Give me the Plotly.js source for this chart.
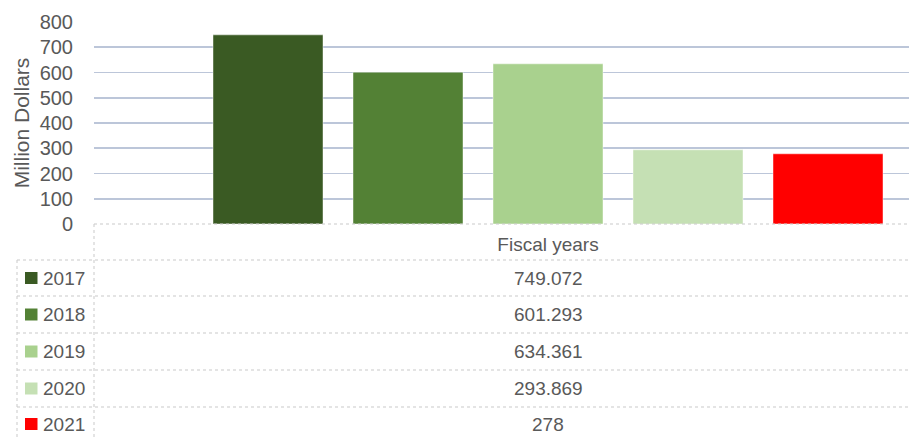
<!DOCTYPE html>
<html>
<head>
<meta charset="utf-8">
<script src="https://cdn.plot.ly/plotly-3.0.1.min.js"></script>
<style>
html,body{margin:0;padding:0;background:#fff;overflow:hidden;}
#chart{width:909px;height:440px;}
</style>
</head>
<body>
<div id="chart"></div>
<script>
// ---- data ----
const category = 'Fiscal years';
const years = ['2017', '2018', '2019', '2020', '2021'];
const values = [749.072, 601.293, 634.361, 293.869, 278];
const valueLabels = ['749.072', '601.293', '634.361', '293.869', '278'];
const colors = ['#3A5A23', '#538135', '#A9D18E', '#C5E0B4', '#FF0000'];
const yTicks = [0, 100, 200, 300, 400, 500, 600, 700, 800];

// ---- layout geometry (pixels) ----
const W = 909, H = 440;
const mL = 94, mT = 22, mR = 0, plotBottom = 224;
const mB = H - plotBottom;
const plotW = W - mL - mR, plotH = plotBottom - mT;
const px = x => (x - mL) / plotW;
const py = y => (plotBottom - y) / plotH;

const FONT = 'Liberation Sans, Arial, sans-serif';
const TXT = '#595959';
const BORDER = '#C9C9C9';

const traces = years.map((yr, i) => ({
  type: 'bar',
  name: yr,
  x: [category],
  y: [values[i]],
  marker: {color: colors[i], line: {color: 'rgba(255,255,255,0.45)', width: 1}},
  hoverinfo: 'name+y'
}));

// table geometry
const rowLines = [260, 296, 333, 370, 407];
const tableLeft = 17, tableBottom = 444;
const shapes = [];
const dash = {color: BORDER, width: 1, dash: 'dot'};
// top border (axis line) and header row
shapes.push({type: 'line', xref: 'paper', yref: 'paper', x0: px(mL), x1: px(W), y0: py(plotBottom), y1: py(plotBottom), line: dash});
shapes.push({type: 'line', xref: 'paper', yref: 'paper', x0: px(mL), x1: px(mL), y0: py(plotBottom), y1: py(tableBottom), line: dash});
rowLines.forEach(y => shapes.push({type: 'line', xref: 'paper', yref: 'paper', x0: px(tableLeft), x1: px(W), y0: py(y), y1: py(y), line: dash}));
shapes.push({type: 'line', xref: 'paper', yref: 'paper', x0: px(tableLeft), x1: px(tableLeft), y0: py(rowLines[0]), y1: py(tableBottom), line: dash});

const annotations = [];
const rowCenters = [];
for (let i = 0; i < years.length; i++) {
  const top = rowLines[i];
  const bot = i + 1 < rowLines.length ? rowLines[i + 1] : 441;
  rowCenters.push((top + bot) / 2);
}
years.forEach((yr, i) => {
  const cy = rowCenters[i];
  shapes.push({type: 'rect', xref: 'paper', yref: 'paper', x0: px(25), x1: px(37.5), y0: py(cy - 6), y1: py(cy + 6), fillcolor: colors[i], line: {width: 0}});
  annotations.push({xref: 'paper', yref: 'paper', x: px(41), y: py(cy), xanchor: 'left', yanchor: 'middle', showarrow: false, text: yr, font: {family: FONT, size: 19, color: TXT}});
  annotations.push({xref: 'x', yref: 'paper', x: category, y: py(cy), xanchor: 'center', yanchor: 'middle', showarrow: false, text: valueLabels[i], font: {family: FONT, size: 19, color: TXT}});
});

// category width in px such that category centre sits at x=548
const catW = 2 * (548 - mL);
const layout = {
  width: W, height: H,
  margin: {l: mL, r: mR, t: mT, b: mB, pad: 0},
  paper_bgcolor: '#fff', plot_bgcolor: '#fff',
  showlegend: false,
  barmode: 'group',
  bargap: 1 - 700 / catW,
  bargroupgap: 30 / 140,
  font: {family: FONT, color: TXT},
  xaxis: {
    type: 'category',
    range: [-0.5, -0.5 + plotW / catW],
    showgrid: false, zeroline: false, showline: false,
    ticks: '', ticklabelstandoff: 7,
    tickfont: {family: FONT, size: 19, color: TXT},
    fixedrange: true
  },
  yaxis: {
    range: [0, 800],
    tickvals: yTicks,
    ticktext: yTicks.map(String),
    showgrid: true, gridcolor: '#BCC6D9', gridwidth: 1.6,
    zeroline: false, showline: false, ticks: '',
    ticklabelstandoff: 20,
    tickfont: {family: FONT, size: 20, color: TXT},
    title: {text: 'Million Dollars', font: {family: FONT, size: 21, color: TXT}, standoff: 4},
    automargin: false,
    fixedrange: true
  },
  shapes: shapes,
  annotations: annotations
};

Plotly.newPlot('chart', traces, layout, {displayModeBar: false, staticPlot: true});
</script>
</body>
</html>
